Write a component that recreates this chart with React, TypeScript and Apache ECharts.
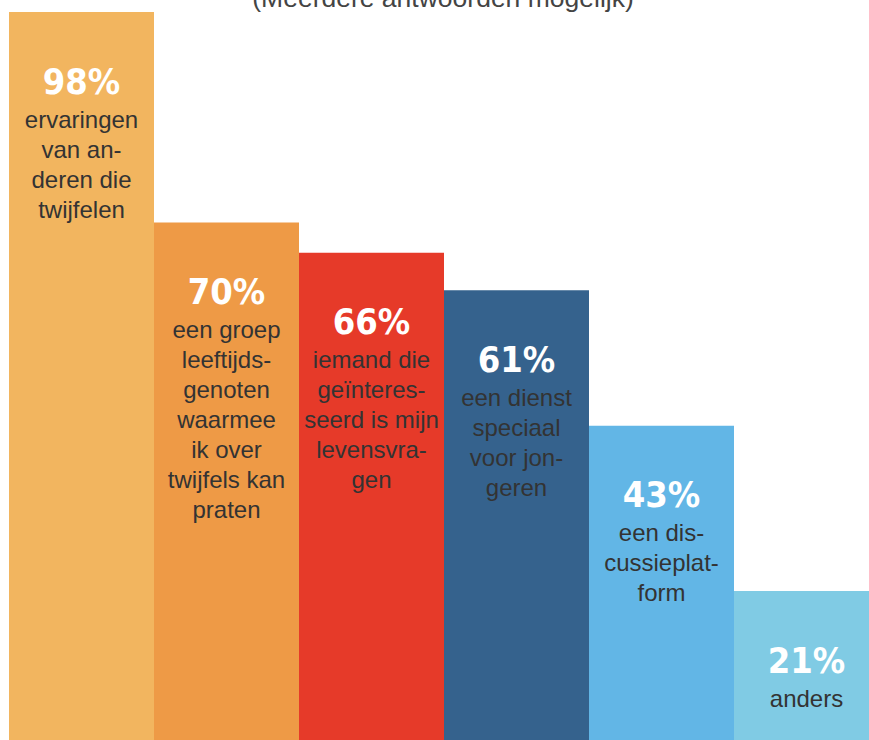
import React, { useEffect, useRef } from "react";
import * as echarts from "echarts";

const titleText = "(Meerdere antwoorden mogelijk)";
const categories = [
  "ervaringen van anderen die twijfelen",
  "een groep leeftijdsgenoten waarmee ik over twijfels kan praten",
  "iemand die geïnteresseerd is mijn levensvragen",
  "een dienst speciaal voor jongeren",
  "een discussieplatform",
  "anders",
];
const values = [98, 70, 66, 61, 43, 21];
const labelLines = [
  ["ervaringen", "van an-", "deren die", "twijfelen"],
  ["een groep", "leeftijds-", "genoten", "waarmee", "ik over", "twijfels kan", "praten"],
  ["iemand die", "geïnteres-", "seerd is mijn", "levensvra-", "gen"],
  ["een dienst", "speciaal", "voor jon-", "geren"],
  ["een dis-", "cussieplat-", "form"],
  ["anders"],
];
const colors = ["#F2B55F", "#EE9A46", "#E63A29", "#35628D", "#62B6E6", "#80CBE4"];

export default function App() {
  const ref = useRef<HTMLDivElement>(null);
  useEffect(() => {
    if (!ref.current) return;
    const chart = echarts.init(ref.current, undefined, { renderer: "svg" });
    chart.setOption({
      animation: false,
      grid: { left: 9, top: 7, width: 870, height: 752 },
      xAxis: {
        type: "category",
        data: categories,
        show: false,
      },
      yAxis: { type: "value", min: 0, max: 100, show: false },
      graphic: [
        {
          type: "text",
          x: 443,
          y: 8,
          style: {
            text: titleText,
            align: "center",
            verticalAlign: "middle",
            fontSize: 26.5,
            fontFamily: "Liberation Sans, Arial, sans-serif",
            fill: "#444444",
          },
        },
      ],
      series: [
        {
          type: "bar",
          barCategoryGap: 0,
          data: values.map((v, i) => ({ value: v, itemStyle: { color: colors[i] } })),
          label: {
            show: true,
            position: "insideTop",
            distance: 46,
            formatter: (p: any) =>
              "{p|" + values[p.dataIndex] + "%}\n" +
              labelLines[p.dataIndex].map((l) => "{t|" + l + "}").join("\n"),
            rich: {
              p: {
                fontSize: 36,
                fontWeight: "bold",
                fontFamily: "DejaVu Sans Condensed, DejaVu Sans, sans-serif",
                color: "#ffffff",
                lineHeight: 46,
                align: "center",
              },
              t: {
                fontSize: 24,
                fontFamily: "Liberation Sans, Arial, sans-serif",
                color: "#333333",
                lineHeight: 30,
                align: "center",
              },
            },
          },
        },
      ],
    });
    return () => chart.dispose();
  }, []);
  return (
    <div style={{ position: "absolute", left: 0, top: 0, width: 869, height: 740, overflow: "hidden" }}>
      <div ref={ref} style={{ position: "absolute", left: 0, top: -10, width: 890, height: 770 }} />
    </div>
  );
}
